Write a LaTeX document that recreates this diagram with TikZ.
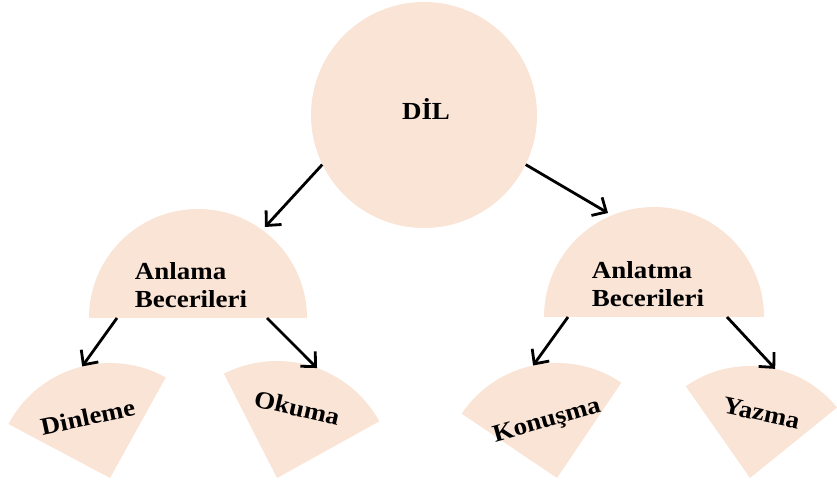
\documentclass[tikz,border=0pt]{standalone}
\usepackage{fontspec}
\setmainfont{Liberation Serif}[FakeStretch=1.1]
\usetikzlibrary{arrows.meta}
\definecolor{peach}{RGB}{250,228,214}

\begin{document}
\begin{tikzpicture}[x=1pt,y=1pt]
        \tikzstyle{blob}=[fill=peach]
        \tikzstyle{lbl}=[font=\fontsize{24.5}{28}\selectfont\bfseries, inner sep=0pt]
        \tikzstyle{arr}=[-{Straight Barb[length=11pt,width=21pt]}, line width=2.8pt]
        \useasboundingbox (0,0) rectangle (837,489);
        % top circle
        \node[blob, circle, minimum size=226pt, inner sep=0pt] (dil) at (424,374) {};
        \node[lbl] (diltxt) at (426,380) {DİL};
        % half discs
        \fill[blob] (198,171) ++(109,0) arc[start angle=0, end angle=180, radius=109] -- cycle;
        \fill[blob] (654,172) ++(110,0) arc[start angle=0, end angle=180, radius=110] -- cycle;
        \node[lbl, align=left] (anlama) at (191,204) {Anlama\\Becerileri};
        \node[lbl, align=left] (anlatma) at (648,205) {Anlatma\\Becerileri};
        \coordinate (anlama-in) at (265,262);
        \coordinate (anlatma-in) at (608,276);
        \coordinate (anlama-l) at (117,171);
        \coordinate (anlama-r) at (267,171);
        \coordinate (anlatma-l) at (568,172);
        \coordinate (anlatma-r) at (727,172);
        % wedges
        \foreach \n/\x/\a/\b/\r/\t/\d/\rot/\ia/\txt in {dinleme/110/61/152/115/110/65/12/104/Dinleme,
                okuma/277/29/117/117/74/73/-13/70/Okuma,
                konusma/557/56/146/115/100/57/16/102/Konuşma,
                yazma/750/39/125/112/80/66/-12/77/Yazma} {
            \coordinate (\n) at (\x,11);
            \fill[blob] (\n) -- ++(\a:\r) arc[start angle=\a, end angle=\b, radius=\r] -- cycle;
            \node[lbl, rotate=\rot] (\n-txt) at ([shift={(\t:\d)}]\n) {\txt};
            \coordinate (\n-in) at ([shift={(\ia:\r)}]\n);
        }
        \path[arr] (dil.206) edge (anlama-in);
        \path[arr] (dil.334) edge (anlatma-in);
        \path[arr] (anlama-l) edge (dinleme-in);
        \path[arr] (anlama-r) edge (okuma-in);
        \path[arr] (anlatma-l) edge (konusma-in);
        \path[arr] (anlatma-r) edge (yazma-in);
      \end{tikzpicture}
\end{document}
